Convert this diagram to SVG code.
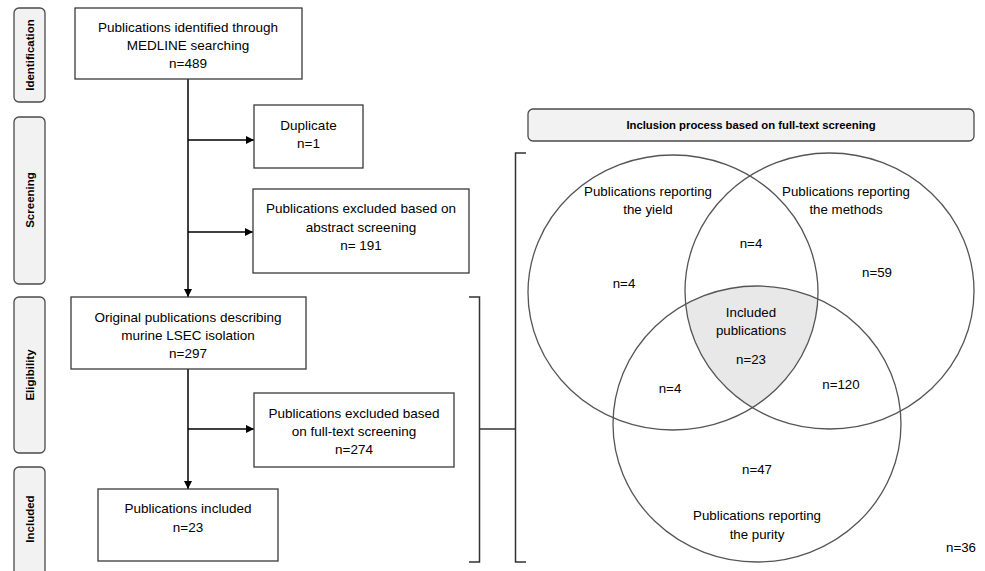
<svg xmlns="http://www.w3.org/2000/svg" width="985" height="571" viewBox="0 0 985 571">
<style>
.box{fill:#fff;stroke:#3a3a3a;stroke-width:1.3}
.side{fill:#f2f2f2;stroke:#4a4a4a;stroke-width:1.3}
.ven{fill:none;stroke:#555;stroke-width:1.3}
.t{font-family:"Liberation Sans",Arial,sans-serif;font-size:13.5px;fill:#000;text-anchor:middle}
.v{font-family:"Liberation Sans",Arial,sans-serif;font-size:13.3px;fill:#000;text-anchor:middle}
.sl{font-family:"Liberation Sans",Arial,sans-serif;font-size:11.5px;font-weight:bold;fill:#000;text-anchor:middle}
.ln{stroke:#000;stroke-width:1.5;fill:none}
.br{stroke:#333;stroke-width:1.5;fill:none}
</style>
<defs>
<marker id="ah" markerWidth="8" markerHeight="8" refX="8" refY="4" orient="auto" markerUnits="userSpaceOnUse">
<path d="M0,0 L8,4 L0,8 Z" fill="#000"/>
</marker>
<clipPath id="cL"><ellipse cx="673" cy="292.5" rx="145" ry="137.5"/></clipPath>
<clipPath id="cR"><ellipse cx="829.5" cy="291" rx="144.5" ry="138"/></clipPath>
</defs>

<g id="side-identification">
<rect class="side" x="14" y="8" width="31" height="94" rx="5"/>
<text class="sl" transform="translate(34,55) rotate(-90)">Identification</text>
</g>
<g id="side-screening">
<rect class="side" x="14" y="117" width="31" height="167" rx="5"/>
<text class="sl" transform="translate(34,200) rotate(-90)">Screening</text>
</g>
<g id="side-eligibility">
<rect class="side" x="14" y="297" width="31" height="156" rx="5"/>
<text class="sl" transform="translate(34,375) rotate(-90)">Eligibility</text>
</g>
<g id="side-included">
<rect class="side" x="14" y="467" width="31" height="115" rx="5"/>
<text class="sl" transform="translate(34,519) rotate(-90)">Included</text>
</g>

<g id="connectors">
<line class="ln" x1="188" y1="79" x2="188" y2="297" marker-end="url(#ah)"/>
<line class="ln" x1="188" y1="140" x2="254" y2="140" marker-end="url(#ah)"/>
<line class="ln" x1="188" y1="232" x2="253" y2="232" marker-end="url(#ah)"/>
<line class="ln" x1="188" y1="369" x2="188" y2="489" marker-end="url(#ah)"/>
<line class="ln" x1="188" y1="429" x2="254" y2="429" marker-end="url(#ah)"/>
<path class="br" d="M469,297 H479.5 V562 H469"/>
<line class="br" x1="479.5" y1="429" x2="515.5" y2="429"/>
<path class="br" d="M526,153 H515.5 V562 H526"/>
</g>

<g id="n-medline">
<rect class="box" x="75" y="8" width="227" height="71"/>
<text class="t" x="188" y="32">Publications identified through</text>
<text class="t" x="188" y="50">MEDLINE searching</text>
<text class="t" x="188" y="68">n=489</text>
</g>
<g id="n-duplicate">
<rect class="box" x="254" y="105" width="109" height="63"/>
<text class="t" x="308.5" y="130">Duplicate</text>
<text class="t" x="308.5" y="148">n=1</text>
</g>
<g id="n-abstract">
<rect class="box" x="253" y="189" width="216" height="84"/>
<text class="t" x="361" y="213">Publications excluded based on</text>
<text class="t" x="361" y="231.5">abstract screening</text>
<text class="t" x="361" y="250">n= 191</text>
</g>
<g id="n-original">
<rect class="box" x="71" y="297" width="235" height="72"/>
<text class="t" x="188" y="322">Original publications describing</text>
<text class="t" x="188" y="340">murine LSEC isolation</text>
<text class="t" x="188" y="358">n=297</text>
</g>
<g id="n-fulltext">
<rect class="box" x="254" y="393" width="200" height="74"/>
<text class="t" x="354" y="418">Publications excluded based</text>
<text class="t" x="354" y="436">on full-text screening</text>
<text class="t" x="354" y="454">n=274</text>
</g>
<g id="n-included">
<rect class="box" x="98" y="489" width="180" height="72"/>
<text class="t" x="188" y="513">Publications included</text>
<text class="t" x="188" y="531.5">n=23</text>
</g>

<g id="header">
<rect class="side" x="528" y="109" width="446" height="32" rx="5"/>
<text class="sl" x="751" y="129" style="font-size:11.3px">Inclusion process based on full-text screening</text>
</g>

<g id="venn">
<g clip-path="url(#cL)">
<ellipse cx="757" cy="424" rx="144" ry="138" fill="#e8e8e8" clip-path="url(#cR)"/>
</g>
<ellipse class="ven" cx="673" cy="292.5" rx="145" ry="137.5"/>
<ellipse class="ven" cx="829.5" cy="291" rx="144.5" ry="138"/>
<ellipse class="ven" cx="757" cy="424" rx="144" ry="138"/>
<text class="v" x="648" y="196">Publications reporting</text>
<text class="v" x="648" y="213.5">the yield</text>
<text class="v" x="846" y="196">Publications reporting</text>
<text class="v" x="846" y="213.5">the methods</text>
<text class="v" x="624" y="288">n=4</text>
<text class="v" x="751" y="248">n=4</text>
<text class="v" x="877" y="277">n=59</text>
<text class="v" x="751" y="317">Included</text>
<text class="v" x="751" y="335">publications</text>
<text class="v" x="751" y="364">n=23</text>
<text class="v" x="670" y="393">n=4</text>
<text class="v" x="841" y="389">n=120</text>
<text class="v" x="757" y="474">n=47</text>
<text class="v" x="757" y="520">Publications reporting</text>
<text class="v" x="757" y="538.5">the purity</text>
<text class="v" x="961" y="552">n=36</text>
</g>
</svg>
